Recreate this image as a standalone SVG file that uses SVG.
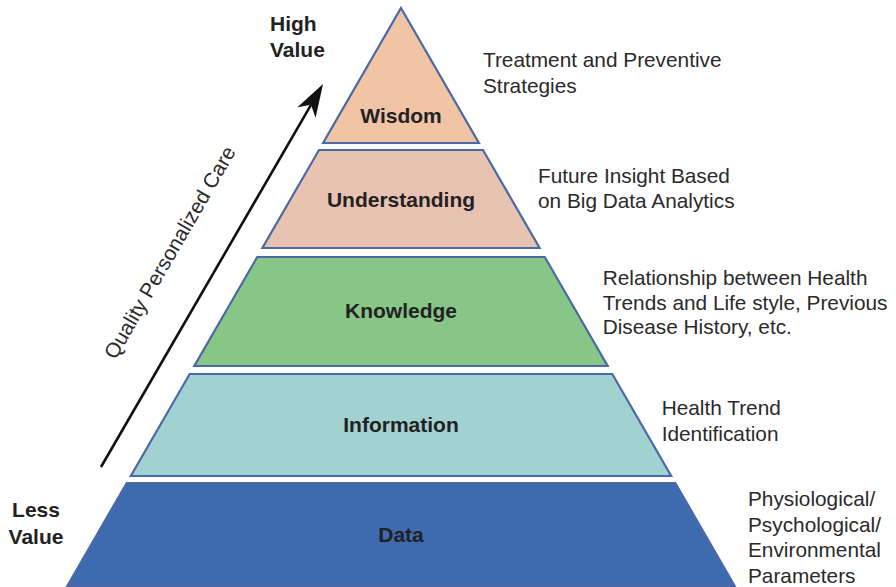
<svg xmlns="http://www.w3.org/2000/svg" width="896" height="587" viewBox="0 0 896 587">
  <style>
    .layer { stroke: #4A69A5; stroke-width: 2.2; stroke-linejoin: miter; }
    .lbl { font-family: "Liberation Sans", Arial, sans-serif; font-size: 21px; font-weight: bold; fill: #222222; text-anchor: middle; }
    .side { font-family: "Liberation Sans", Arial, sans-serif; font-size: 20.8px; fill: #2a2a2a; }
    .val { font-family: "Liberation Sans", Arial, sans-serif; font-size: 21px; font-weight: bold; fill: #222222; }
  </style>
  <defs>
    <marker id="head" markerUnits="userSpaceOnUse" markerWidth="40" markerHeight="30" viewBox="-10 -12 40 24" refX="0" refY="0" orient="auto">
      <path d="M24,0 L-9,-10.5 L0,0 L-9,10.5 Z" fill="#111111"/>
    </marker>
  </defs>
  <rect width="896" height="587" fill="#ffffff"/>

  <!-- pyramid levels, bottom to top -->
  <g id="data">
    <polygon class="layer" points="126.7,483 675.3,483 734.7,586 67.3,586" fill="#3E6BAF"/>
    <text class="lbl" x="401" y="541.5">Data</text>
  </g>
  <g id="information">
    <polygon class="layer" points="189.7,374 612.3,374 671.2,476 130.8,476" fill="#A2D1D1"/>
    <text class="lbl" x="401" y="431.7">Information</text>
  </g>
  <g id="knowledge">
    <polygon class="layer" points="257.2,257 544.8,257 607.7,366 194.3,366" fill="#88C688"/>
    <text class="lbl" x="401" y="318.3">Knowledge</text>
  </g>
  <g id="understanding">
    <polygon class="layer" points="319,150 483,150 539.6,248 262.4,248" fill="#E9C3B2"/>
    <text class="lbl" x="401" y="207.3">Understanding</text>
  </g>
  <g id="wisdom">
    <polygon class="layer" points="401,8 478.9,143 323.1,143" fill="#F1C4A5"/>
    <text class="lbl" x="401" y="123.3">Wisdom</text>
  </g>

  <!-- value axis -->
  <g id="connectors">
    <line x1="101" y1="467" x2="311" y2="104.8" stroke="#111111" stroke-width="2.6" marker-end="url(#head)"/>
  </g>
  <g id="axis-label">
    <text class="side" x="176" y="256" text-anchor="middle" transform="rotate(-60 176 256)">Quality Personalized Care</text>
  </g>
  <g id="high-value">
    <text class="val" x="270" y="31">High</text>
    <text class="val" x="270" y="57">Value</text>
  </g>
  <g id="less-value">
    <text class="val" x="36" y="517" text-anchor="middle">Less</text>
    <text class="val" x="36" y="544" text-anchor="middle">Value</text>
  </g>

  <!-- descriptions -->
  <g id="desc-wisdom">
    <text class="side" x="483" y="67.3">Treatment and Preventive</text>
    <text class="side" x="483" y="93">Strategies</text>
  </g>
  <g id="desc-understanding">
    <text class="side" x="538" y="183">Future Insight Based</text>
    <text class="side" x="538" y="208">on Big Data Analytics</text>
  </g>
  <g id="desc-knowledge">
    <text class="side" x="602.7" y="285">Relationship between Health</text>
    <text class="side" x="602.7" y="310">Trends and Life style, Previous</text>
    <text class="side" x="602.7" y="334.3">Disease History, etc.</text>
  </g>
  <g id="desc-information">
    <text class="side" x="661.7" y="415">Health Trend</text>
    <text class="side" x="661.7" y="440.7">Identification</text>
  </g>
  <g id="desc-data">
    <text class="side" x="748" y="506">Physiological/</text>
    <text class="side" x="748" y="531.5">Psychological/</text>
    <text class="side" x="748" y="557">Environmental</text>
    <text class="side" x="748" y="582.5">Parameters</text>
  </g>
</svg>
